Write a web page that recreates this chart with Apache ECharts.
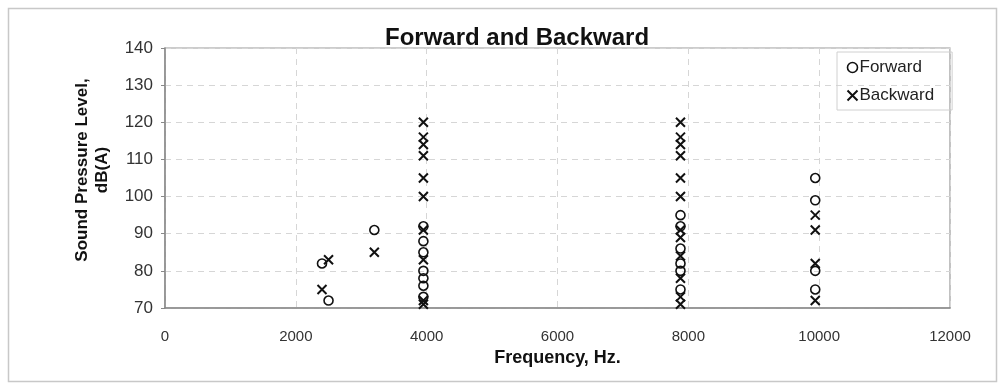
<!DOCTYPE html>
<html>
<head>
<meta charset="utf-8">
<script src="https://cdn.jsdelivr.net/npm/echarts@6/dist/echarts.min.js"></script>
<style>
  html, body { margin: 0; padding: 0; background: #ffffff; }
  #chart { width: 1000px; height: 384px; }
</style>
</head>
<body>
<div id="chart"></div>
<script>
// Frequency (Hz) and sound pressure level dB(A) for each measurement
const forwardFreq = [2400, 2500, 3200, 3950, 3950, 3950, 3950, 3950, 3950, 3950, 7880, 7880, 7880, 7880, 7880, 7880, 9940, 9940, 9940, 9940];
const forwardLevel = [82, 72, 91, 92, 88, 85, 80, 78, 76, 73, 95, 92, 86, 82, 80, 75, 105, 99, 80, 75];

const backwardFreq = [2400, 2500, 3200, 3950, 3950, 3950, 3950, 3950, 3950, 3950, 3950, 3950, 3950, 7880, 7880, 7880, 7880, 7880, 7880, 7880, 7880, 7880, 7880, 7880, 7880, 9940, 9940, 9940, 9940];
const backwardLevel = [75, 83, 85, 120, 116, 114, 111, 105, 100, 91, 83, 72, 71, 120, 116, 114, 111, 105, 100, 91, 89, 84, 78, 73, 71, 95, 91, 82, 72];

const seriesNames = ['Forward', 'Backward'];
const chartTitle = 'Forward and Backward';
const xAxisTitle = 'Frequency, Hz.';
const yAxisTitle = 'Sound Pressure Level,\ndB(A)';

const pairs = (xs, ys) => xs.map((x, i) => [x, ys[i]]);

const crossPath = 'path://M0,0L10,10M10,0L0,10';
const font = 'Liberation Sans, Arial, sans-serif';

const chart = echarts.init(document.getElementById('chart'), null, { renderer: 'canvas' });
chart.setOption({
  backgroundColor: '#ffffff',
  animation: false,
  graphic: [{
    type: 'rect',
    left: 6, top: 6,
    shape: { width: 988, height: 373 },
    style: { fill: 'none', stroke: '#c8c8c8', lineWidth: 1.5 },
    silent: true
  }],
  title: {
    text: chartTitle,
    left: 512, top: 21,
    textAlign: 'center',
    textStyle: { fontFamily: font, fontSize: 24, fontWeight: 'bold', color: '#111' }
  },
  legend: {
    orient: 'vertical',
    left: 837, top: 52,
    padding: [7, 18, 6, 8],
    itemGap: 11,
    itemWidth: 10, itemHeight: 10,
    borderColor: '#d0d0d0', borderWidth: 1,
    textStyle: { fontFamily: font, fontSize: 17, color: '#222', padding: [0, 0, 0, -3] },
    data: [
      { name: seriesNames[0], icon: 'circle', itemStyle: { color: 'none', borderColor: '#111', borderWidth: 1.6 } },
      { name: seriesNames[1], icon: crossPath, itemStyle: { color: 'none', borderColor: '#111', borderWidth: 2 } }
    ]
  },
  grid: { left: 165, right: 50, top: 48, bottom: 76, show: true, borderColor: '#999', borderWidth: 1.2, backgroundColor: 'transparent' },
  xAxis: {
    type: 'value', min: 0, max: 12000, interval: 2000,
    name: xAxisTitle, nameLocation: 'middle', nameGap: 41,
    nameTextStyle: { fontFamily: font, fontSize: 18, fontWeight: 'bold', color: '#111' },
    axisLine: { show: true, onZero: false, lineStyle: { color: '#888', width: 1.5 } },
    axisTick: { show: false },
    axisLabel: { fontFamily: font, fontSize: 15, color: '#333', margin: 21, formatter: v => String(v) },
    splitLine: { show: true, lineStyle: { color: '#d6d6d6', type: [6, 5], width: 1 } }
  },
  yAxis: {
    type: 'value', min: 70, max: 140, interval: 10,
    name: yAxisTitle, nameLocation: 'middle', nameGap: 53,
    nameTextStyle: { fontFamily: font, fontSize: 17, fontWeight: 'bold', color: '#111', lineHeight: 20, padding: [0, 0, 0, 16] },
    axisLine: { show: true, onZero: false, lineStyle: { color: '#888', width: 1.5 } },
    axisTick: { show: true, length: 4, inside: false, lineStyle: { color: '#888' } },
    axisLabel: { fontFamily: font, fontSize: 17, color: '#333', margin: 12 },
    splitLine: { show: true, lineStyle: { color: '#d6d6d6', type: [6, 5], width: 1 } }
  },
  series: [
    {
      name: seriesNames[0], type: 'scatter',
      data: pairs(forwardFreq, forwardLevel),
      symbol: 'circle', symbolSize: 9,
      itemStyle: { color: 'none', borderColor: '#111', borderWidth: 1.6, opacity: 1 }
    },
    {
      name: seriesNames[1], type: 'scatter',
      data: pairs(backwardFreq, backwardLevel),
      symbol: crossPath, symbolSize: 9,
      itemStyle: { color: 'none', borderColor: '#111', borderWidth: 2, opacity: 1 }
    }
  ]
});
</script>
</body>
</html>
